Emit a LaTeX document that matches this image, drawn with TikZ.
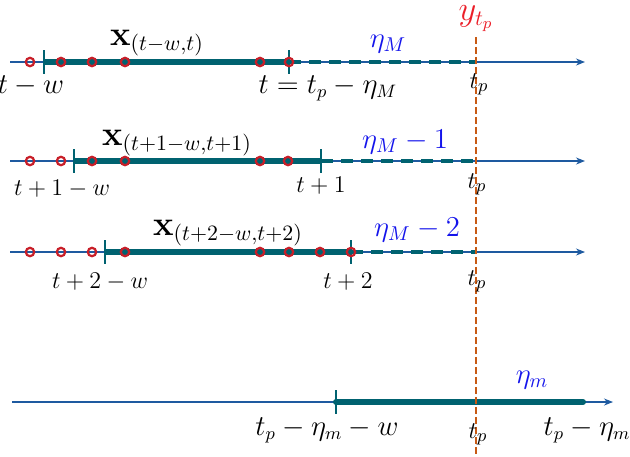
\documentclass[tikz,border=0pt]{standalone}
\usepackage{amsmath}
\usetikzlibrary{arrows.meta}
\definecolor{axisblue}{RGB}{30,90,160}
\definecolor{barteal}{RGB}{0,98,112}
\definecolor{obsred}{RGB}{200,30,40}
\definecolor{vorange}{RGB}{200,90,20}
\definecolor{lblblue}{RGB}{20,20,235}
\definecolor{lblred}{RGB}{235,30,40}
\tikzset{
  axisline/.style={draw=axisblue, line width=0.6pt, -{Stealth[length=4.5pt,width=3.5pt]}},
  bar/.style={draw=barteal, line width=3pt},
  dashbar/.style={draw=barteal, line width=2pt, dash pattern=on 6pt off 4pt},
  tickmark/.style={draw=barteal, line width=1pt},
  obs/.style={circle, draw=obsred, line width=1.1pt, minimum size=4.2pt, inner sep=0pt},
  vline/.style={draw=vorange, line width=1pt, dash pattern=on 3.5pt off 1.5pt},
  lbl/.style={anchor=base, inner sep=0pt, font=\fontsize{13.5}{16}\selectfont},
  lbls/.style={anchor=base, inner sep=0pt, font=\fontsize{12}{14}\selectfont},
  tplbl/.style={anchor=base, inner sep=0pt, font=\fontsize{13}{15}\selectfont},
  xlbl/.style={anchor=base, inner sep=0pt, font=\fontsize{16}{18}\selectfont},
  etalbl/.style={anchor=base, inner sep=0pt, text=lblblue, font=\fontsize{14.5}{17}\selectfont},
  ylbl/.style={anchor=base, inner sep=0pt, text=lblred, font=\fontsize{16}{18}\selectfont}
}
\begin{document}
\begin{tikzpicture}[x=0.5pt,y=-0.5pt]
\useasboundingbox (0,0) rectangle (630,456);

% ---------- row 1 ----------
\coordinate (a1s) at (10,62);
\coordinate (a1e) at (585,62);
\coordinate (k1a) at (44,62);
\coordinate (k1b) at (289,62);
\coordinate (p1) at (476,62);
\draw[axisline] (a1s) -- (a1e);
\draw[bar] (k1a) -- (k1b);
\draw[dashbar] (k1b) -- (p1);
\draw[tickmark] (k1a) ++(0,-12) -- ++(0,24);
\draw[tickmark] (k1b) ++(0,-12) -- ++(0,24);
\foreach \x [count=\i] in {30,61,92,125,260,289} \node[obs] (o1\i) at (\x,62) {};

% ---------- row 2 ----------
\coordinate (a2s) at (10,161);
\coordinate (a2e) at (585,161);
\coordinate (k2a) at (74,161);
\coordinate (k2b) at (321,161);
\coordinate (p2) at (476,161);
\draw[axisline] (a2s) -- (a2e);
\draw[bar] (k2a) -- (k2b);
\draw[dashbar] (k2b) -- (p2);
\draw[tickmark] (k2a) ++(0,-12) -- ++(0,24);
\draw[tickmark] (k2b) ++(0,-12) -- ++(0,24);
\foreach \x [count=\i] in {30,61,92,125,260,288} \node[obs] (o2\i) at (\x,161) {};

% ---------- row 3 ----------
\coordinate (a3s) at (10,252);
\coordinate (a3e) at (585,252);
\coordinate (k3a) at (105,252);
\coordinate (k3b) at (351,252);
\coordinate (p3) at (476,252);
\draw[axisline] (a3s) -- (a3e);
\draw[bar] (k3a) -- (k3b);
\draw[dashbar] (k3b) -- (p3);
\draw[tickmark] (k3a) ++(0,-12) -- ++(0,24);
\draw[tickmark] (k3b) ++(0,-12) -- ++(0,24);
\foreach \x [count=\i] in {30,61,92,125,260,289,320,351} \node[obs] (o3\i) at (\x,252) {};

% ---------- row 4 ----------
\coordinate (a4s) at (12,402);
\coordinate (a4e) at (613,402);
\coordinate (k4a) at (336,402);
\coordinate (k4b) at (583,402);
\draw[axisline] (a4s) -- (a4e);
\draw[bar, line cap=round] (k4a) -- (k4b);
\draw[tickmark] (k4a) ++(0,-12) -- ++(0,24);

% ---------- vertical t_p line ----------
\coordinate (vt) at (476,37);
\coordinate (vb) at (476,456);
\draw[vline] (vt) -- (vb);

% ---------- labels ----------
\node[ylbl] (ytp) at (476,20) {$y_{t_p}$};

\node[xlbl] (x1) at (157,45) {$\mathbf{x}_{(t-w,t)}$};
\node[etalbl] (e1) at (388,47) {$\eta_M$};
\node[lbl] (l1a) at (31,93) {$t-w$};
\node[lbl] (l1b) at (328,93) {$t=t_p-\eta_M$};
\node[tplbl] (l1c) at (479,88) {$t_p$};

\node[xlbl] (x2) at (177,145) {$\mathbf{x}_{(t+1-w,t+1)}$};
\node[etalbl] (e2) at (405,148) {$\eta_M-1$};
\node[lbls] (l2a) at (62,195) {$t+1-w$};
\node[lbls] (l2b) at (321,192) {$t+1$};
\node[tplbl] (l2c) at (477,188) {$t_p$};

\node[xlbl] (x3) at (228,235) {$\mathbf{x}_{(t+2-w,t+2)}$};
\node[etalbl] (e3) at (417,236) {$\eta_M-2$};
\node[lbls] (l3a) at (100,288) {$t+2-w$};
\node[lbls] (l3b) at (348,288) {$t+2$};
\node[tplbl] (l3c) at (477,285) {$t_p$};

\node[etalbl] (e4) at (532,383) {$\eta_m$};
\node[lbl] (l4a) at (327,435) {$t_p-\eta_m-w$};
\node[tplbl] (l4b) at (478,438) {$t_p$};
\node[lbl] (l4c) at (587,435) {$t_p-\eta_m$};
\end{tikzpicture}
\end{document}
